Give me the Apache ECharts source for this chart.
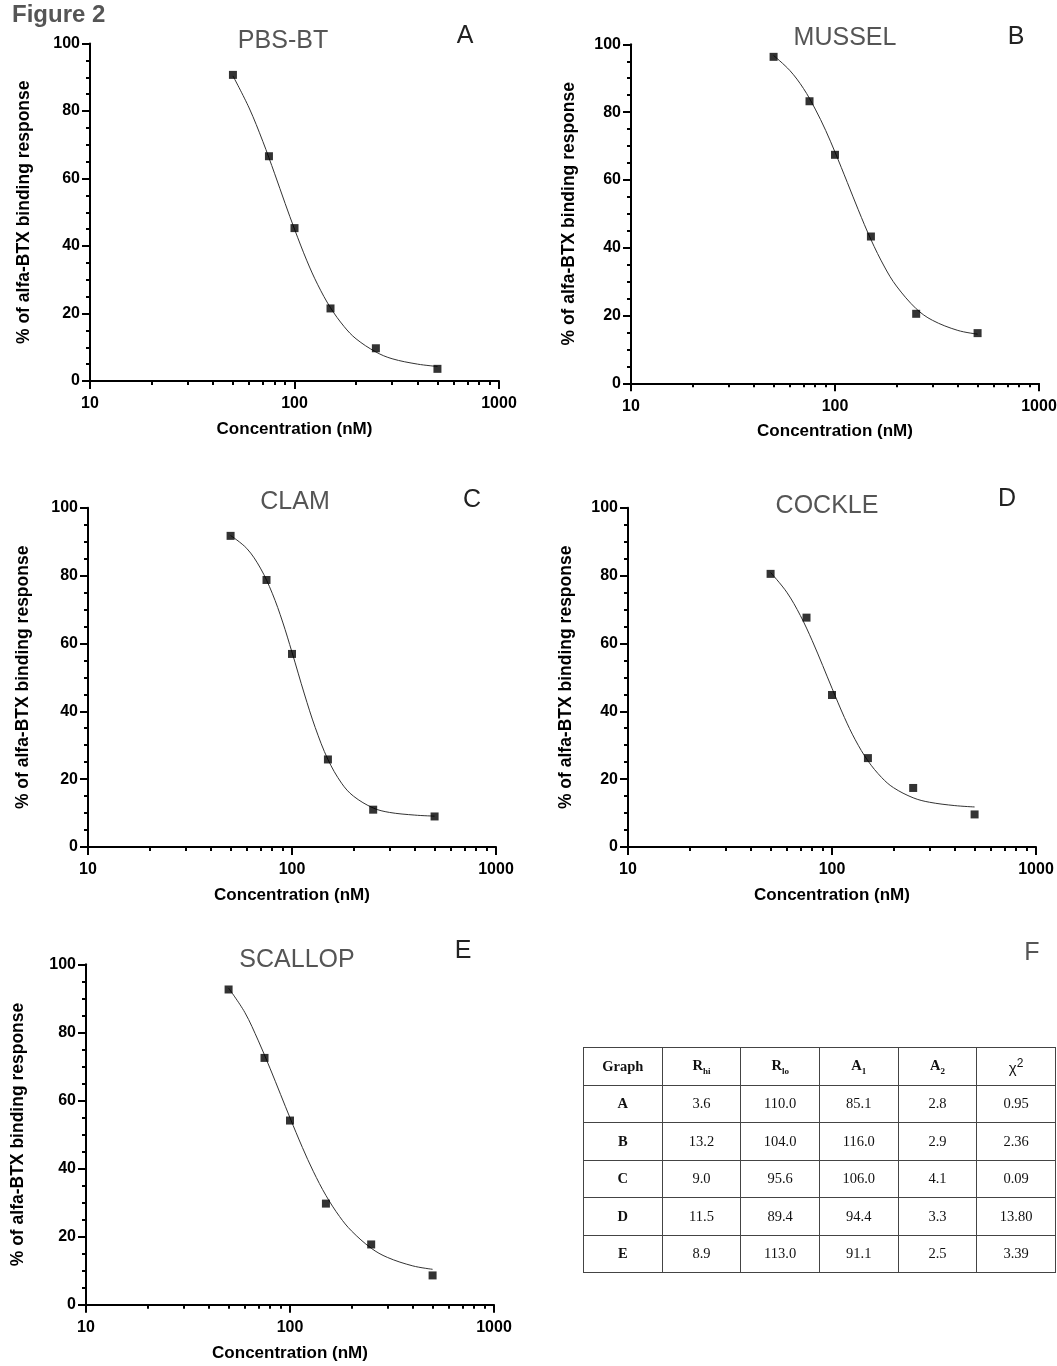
<!DOCTYPE html>
<html>
<head>
<meta charset="utf-8">
<script src="https://cdn.jsdelivr.net/npm/echarts@6/dist/echarts.min.js"></script>
<style>
body { margin: 0; background: #fff; }
#chart { position: absolute; left: 0; top: 0; width: 1057px; height: 1366px; }
#tbl {
  position: absolute; left: 583px; top: 1047px; width: 473px;
  border-collapse: collapse; table-layout: fixed;
  font-family: "Liberation Serif", "DejaVu Serif", serif; font-size: 14.5px; color: #111;
}
#tbl tr { height: 37.5px; }
#tbl td { border: 1px solid #444; text-align: center; padding: 0; }
#tbl .b { font-weight: bold; }
#tbl sub { font-size: 9px; }
.chi { font-family: "Liberation Sans", Arial, sans-serif; font-size: 15px; }
.chi sup { font-size: 12px; }
</style>
</head>
<body>
<div id="chart"></div>

<table id="tbl">
  <tr><td class="b">Graph</td><td class="b">R<sub>hi</sub></td><td class="b">R<sub>lo</sub></td><td class="b">A<sub>1</sub></td><td class="b">A<sub>2</sub></td><td class="chi">&chi;<sup>2</sup></td></tr>
  <tr><td class="b">A</td><td>3.6</td><td>110.0</td><td>85.1</td><td>2.8</td><td>0.95</td></tr>
  <tr><td class="b">B</td><td>13.2</td><td>104.0</td><td>116.0</td><td>2.9</td><td>2.36</td></tr>
  <tr><td class="b">C</td><td>9.0</td><td>95.6</td><td>106.0</td><td>4.1</td><td>0.09</td></tr>
  <tr><td class="b">D</td><td>11.5</td><td>89.4</td><td>94.4</td><td>3.3</td><td>13.80</td></tr>
  <tr><td class="b">E</td><td>8.9</td><td>113.0</td><td>91.1</td><td>2.5</td><td>3.39</td></tr>
</table>

<script>
// concentrations (nM) of the measured points
var conc = [50, 75, 100, 150, 250, 500];
var respA = [90.7, 66.6, 45.3, 21.5, 9.7, 3.6];
var respB = [96.3, 83.2, 67.4, 43.3, 20.5, 14.8];
var respC = [91.7, 78.7, 56.9, 25.8, 11.0, 9.0];
var respD = [80.5, 67.6, 44.8, 26.2, 17.4, 9.6];
var respE = [92.6, 72.5, 54.1, 29.7, 17.7, 8.6];

// fitted curves
var fitX = [50, 60, 70, 80, 90, 100, 115, 130, 150, 175, 200, 250, 300, 400, 500];
var fitA = [90.4, 80.9, 71.0, 61.4, 52.6, 45.0, 35.6, 28.5, 21.7, 16.1, 12.5, 8.6, 6.6, 5.0, 4.3];
var fitB = [96.7, 92.3, 87.0, 80.9, 74.6, 68.2, 59.2, 51.2, 42.4, 34.3, 28.7, 22.0, 18.6, 15.6, 14.5];
var fitC = [91.8, 88.0, 82.2, 74.8, 66.3, 57.4, 45.1, 35.2, 25.8, 18.8, 15.0, 11.5, 10.2, 9.4, 9.1];
var fitD = [80.9, 75.1, 68.2, 60.8, 53.5, 46.8, 38.2, 31.6, 25.4, 20.5, 17.5, 14.5, 13.2, 12.2, 11.8];
var fitE = [93.0, 85.9, 77.5, 69.3, 61.7, 54.9, 46.2, 39.2, 32.1, 25.9, 21.7, 16.6, 13.9, 11.4, 10.4];

var minorX = [20, 30, 40, 50, 60, 70, 80, 90, 200, 300, 400, 500, 600, 700, 800, 900];

var panels = [
  { name: "PBS-BT",  letter: "A", resp: respA, fit: fitA, left: 90,  top: 43.5,  w: 409, h: 337.5, yGap: 57, title: [283, 41],  lab: [465, 36] },
  { name: "MUSSEL",  letter: "B", resp: respB, fit: fitB, left: 631, top: 44.3,  w: 408, h: 339,   yGap: 53, title: [845, 38],  lab: [1016, 37] },
  { name: "CLAM",    letter: "C", resp: respC, fit: fitC, left: 88,  top: 507.7, w: 408, h: 339.3, yGap: 56, title: [295, 502], lab: [472, 500] },
  { name: "COCKLE",  letter: "D", resp: respD, fit: fitD, left: 628, top: 507.7, w: 408, h: 339.3, yGap: 53, title: [827, 506], lab: [1007, 499] },
  { name: "SCALLOP", letter: "E", resp: respE, fit: fitE, left: 86,  top: 964.3, w: 408, h: 340.4, yGap: 59, title: [297, 960], lab: [463, 951] }
];

var font = "'Liberation Sans', Arial, sans-serif";
var black = "#000";

function zip(xs, ys) {
  return xs.map(function (x, i) { return [x, ys[i]]; });
}

var grids = [], xAxes = [], yAxes = [], series = [];
var graphics = [{
  type: "text", left: 12, top: 3,
  style: { text: "Figure 2", font: "bold 24px " + font, fill: "#555" }
}];

panels.forEach(function (p, i) {
  grids.push({ left: p.left, top: p.top, width: p.w, height: p.h, outerBoundsMode: "none" });

  xAxes.push({
    type: "log", logBase: 10, min: 10, max: 1000, gridIndex: i, position: "bottom",
    axisLine: { lineStyle: { color: black, width: 2 } },
    axisTick: { length: 8, lineStyle: { color: black, width: 2 } },
    axisLabel: {
      color: black, fontWeight: "bold", fontSize: 16, fontFamily: font, margin: 15,
      formatter: function (v) { return String(Math.round(v)); }
    },
    splitLine: { show: false },
    name: "Concentration (nM)", nameLocation: "middle", nameGap: 40,
    nameTextStyle: { color: black, fontWeight: "bold", fontSize: 17, fontFamily: font }
  });
  // minor ticks 2..9 of each decade
  xAxes.push({
    type: "log", logBase: 10, min: 10, max: 1000, gridIndex: i, position: "bottom",
    axisLine: { show: false },
    axisTick: { show: true, customValues: minorX, length: 4, lineStyle: { color: black, width: 2 } },
    axisLabel: { show: false },
    splitLine: { show: false }
  });

  yAxes.push({
    type: "value", min: 0, max: 100, interval: 20, gridIndex: i,
    axisLine: { show: true, lineStyle: { color: black, width: 2 } },
    axisTick: { show: true, length: 8, lineStyle: { color: black, width: 2 } },
    minorTick: { show: true, splitNumber: 4, length: 4, lineStyle: { color: black, width: 2 } },
    splitLine: { show: false },
    minorSplitLine: { show: false },
    axisLabel: { color: black, fontWeight: "bold", fontSize: 16, fontFamily: font, margin: 10 },
    name: "% of alfa-BTX binding response", nameLocation: "middle", nameGap: p.yGap,
    nameTextStyle: { color: black, fontWeight: "bold", fontSize: 17.5, fontFamily: font }
  });

  series.push({
    type: "line", xAxisIndex: 2 * i, yAxisIndex: i,
    data: zip(fitX, p.fit), showSymbol: false, smooth: 0.35,
    lineStyle: { color: "#333", width: 1 }, silent: true, z: 2
  });
  series.push({
    type: "scatter", xAxisIndex: 2 * i, yAxisIndex: i,
    data: zip(conc, p.resp), symbol: "rect", symbolSize: 8,
    itemStyle: { color: black }, z: 3
  });

  graphics.push({
    type: "text", x: p.title[0], y: p.title[1],
    style: { text: p.name, font: "25px " + font, fill: "#555", align: "center", verticalAlign: "middle" }
  });
  graphics.push({
    type: "text", x: p.lab[0], y: p.lab[1],
    style: { text: p.letter, font: "25px " + font, fill: "#222", align: "center", verticalAlign: "middle" }
  });
});

graphics.push({
  type: "text", x: 1032, y: 953,
  style: { text: "F", font: "25px " + font, fill: "#555", align: "center", verticalAlign: "middle" }
});

var chart = echarts.init(document.getElementById("chart"), null, { renderer: "canvas" });
chart.setOption({
  animation: false,
  backgroundColor: "#fff",
  grid: grids,
  xAxis: xAxes,
  yAxis: yAxes,
  series: series,
  graphic: graphics
});
</script>
</body>
</html>
